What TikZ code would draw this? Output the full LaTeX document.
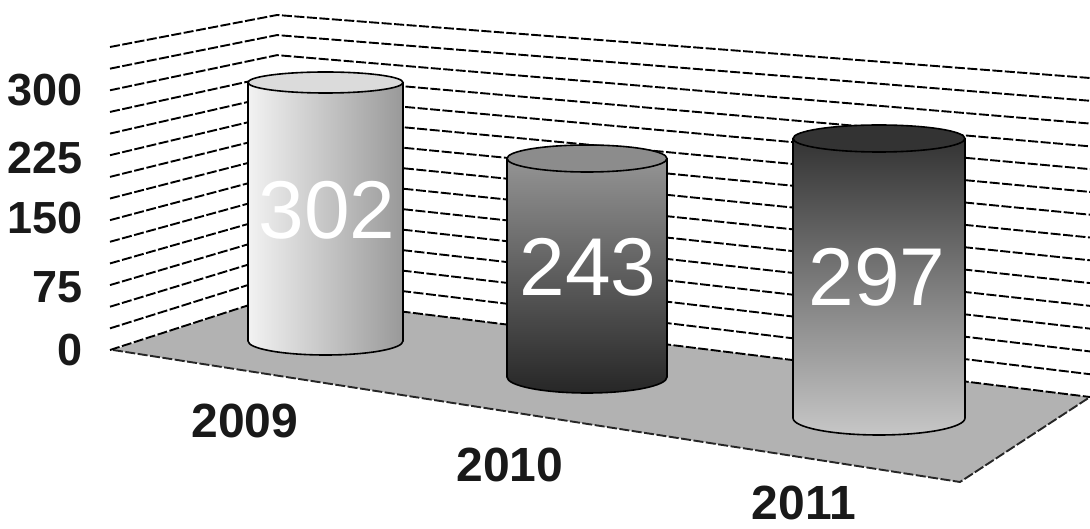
\documentclass[tikz,border=0pt]{standalone}
\usepackage{fontspec}
\setmainfont{Liberation Sans}
\begin{document}
\begin{tikzpicture}[x=1pt,y=1pt,
  grid/.style={black, line width=1.9pt, dash pattern=on 10pt off 2.5pt},
  flooredge/.style={black!85, line width=1.9pt, dash pattern=on 10pt off 2.5pt},
  cyl/.style={draw=black, line width=1.6pt},
  val/.style={text=white, font=\fontsize{82}{82}\selectfont, inner sep=0pt},
  tick/.style={font=\fontsize{45}{45}\selectfont\bfseries, anchor=east, inner sep=0pt, text=black!90},
  year/.style={font=\fontsize{48}{48}\selectfont\bfseries, inner sep=0pt, text=black!90}]
\useasboundingbox (0,0) rectangle (1090,528);
% floor
\coordinate (FL) at (113,178);
\coordinate (BL) at (277,232);
\coordinate (BR) at (1090,131);
\coordinate (FR) at (960,46);
\fill[black!30] (FL) -- (BL) -- (BR) -- (FR) -- cycle;
\draw[flooredge] (FL) -- (FR) -- (BR);
% gridlines on the two walls
\foreach \k in {0,...,14} {
  \draw[grid] (110,{178+\k*21.643}) -- (277,{232+\k*20.071}) -- (1090,{131+\k*22.786});
}
% cylinder 2009
\shade[left color=black!5, right color=black!40] (248,445.5) -- (248,187) arc[start angle=180,end angle=360,x radius=77.5,y radius=14] -- (403,445.5) -- cycle;
\draw[cyl] (248,445.5) -- (248,187) arc[start angle=180,end angle=360,x radius=77.5,y radius=14] -- (403,445.5);
\filldraw[cyl, fill=black!14] (325.5,445.5) ellipse[x radius=77.5, y radius=10.5];
% cylinder 2010
\shade[top color=black!42, middle color=black!52, bottom color=black!85] (507,369.5) -- (507,151) arc[start angle=180,end angle=360,x radius=80,y radius=16] -- (667,369.5) -- cycle;
\draw[cyl] (507,369.5) -- (507,151) arc[start angle=180,end angle=360,x radius=80,y radius=16] -- (667,369.5);
\filldraw[cyl, fill=black!45] (587,369.5) ellipse[x radius=80, y radius=13.5];
% cylinder 2011
\shade[top color=black!80, bottom color=black!22] (793,389.5) -- (793,110) arc[start angle=180,end angle=360,x radius=86,y radius=17] -- (965,389.5) -- cycle;
\draw[cyl] (793,389.5) -- (793,110) arc[start angle=180,end angle=360,x radius=86,y radius=17] -- (965,389.5);
\filldraw[cyl, fill=black!80] (879,389.5) ellipse[x radius=86, y radius=13.5];
% values
\node[val] (v2009) at (327,318) {302};
\node[val] (v2010) at (588,261) {243};
\node[val] (v2011) at (877,251) {297};
% axis ticks
\node[tick] (t300) at (83,438) {300};
\node[tick] (t225) at (83,370) {225};
\node[tick] (t150) at (83,310) {150};
\node[tick] (t75) at (83,241) {75};
\node[tick] (t0) at (83,178) {0};
% categories
\node[year] (y2009) at (245,107) {2009};
\node[year] (y2010) at (510,63) {2010};
\node[year] (y2011) at (804,25) {2011};
\end{tikzpicture}
\end{document}
